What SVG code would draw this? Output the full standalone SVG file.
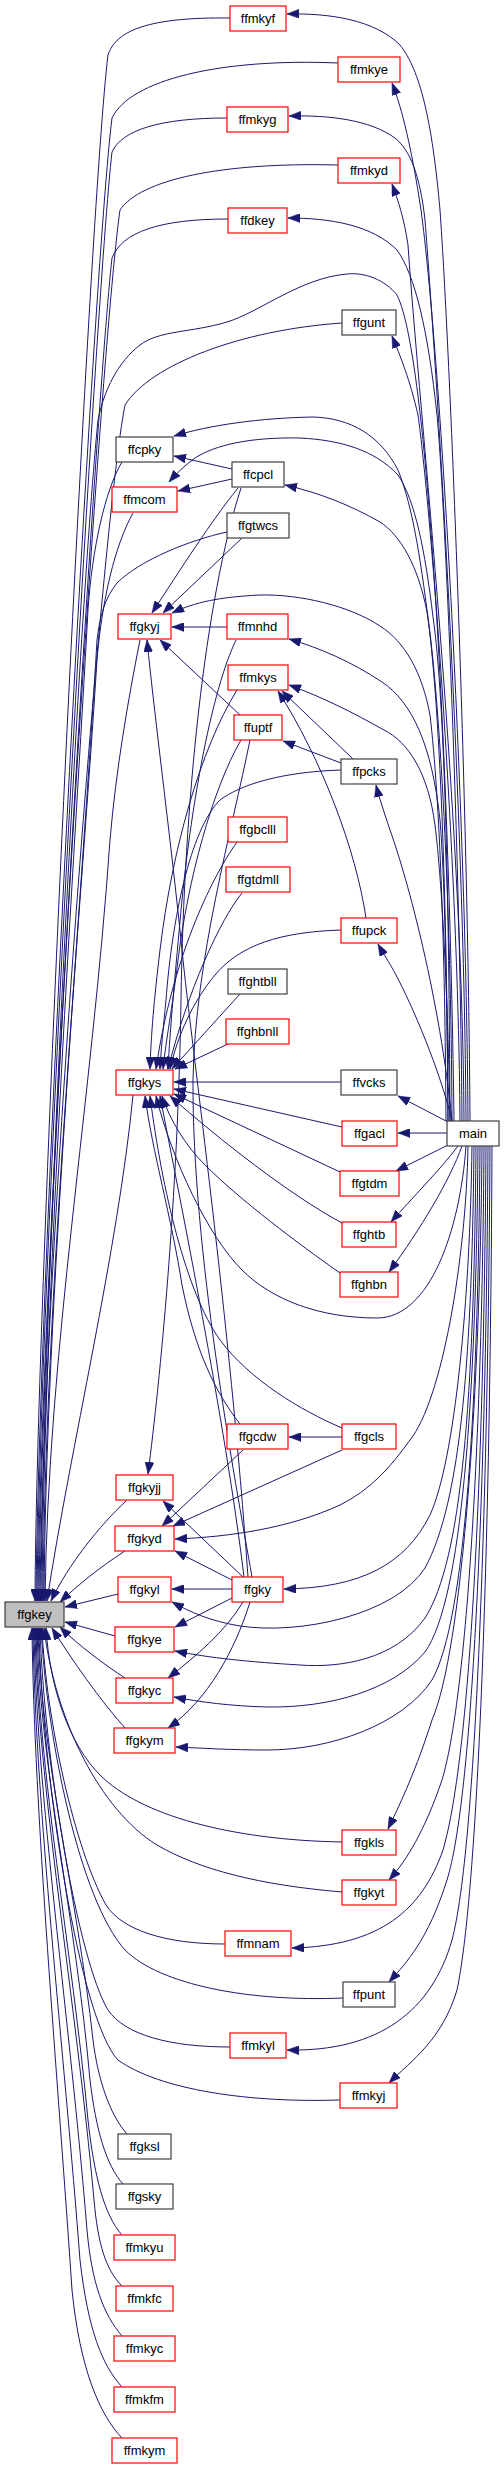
<svg xmlns="http://www.w3.org/2000/svg" width="504" height="2469" viewBox="0 0 504 2469">
<style>
.n rect{fill:#fff;stroke-width:1.2}
.r rect{stroke:#ff0000}
.b rect{stroke:#404040}
.g rect{fill:#bfbfbf;stroke:#404040}
.n text{font-family:"Liberation Sans",Arial,Helvetica,sans-serif;font-size:13px;fill:#000;text-anchor:middle}
#edges path{fill:none;stroke:#191970;stroke-width:1;marker-end:url(#ah)}
#edges path.na{marker-end:none}
</style>
<defs>
<marker id="ah" viewBox="0 0 12 9" refX="12" refY="4.5" markerWidth="12" markerHeight="9" markerUnits="userSpaceOnUse" orient="auto">
<path d="M0,0L12,4.5L0,9z" fill="#191970" stroke="#191970" stroke-width="0.5"/>
</marker>
</defs>
<rect width="504" height="2469" fill="#fff"/>
<g id="edges">
<!-- callers of ffgkey above -->
<path d="M230,18 C150,17 116,30 108,55 C90,200 36,1300 35,1601"/>
<path d="M338,63 C220,58 130,80 112,118 C94,260 38,1300 36,1601"/>
<path d="M227,118 C160,118 122,130 112,152 C96,290 39,1300 37,1601"/>
<path d="M338,165 C220,162 140,180 120,210 C100,350 40,1300 38,1601"/>
<path d="M228,219 C160,219 122,232 112,258 C97,390 41,1300 39,1601"/>
<path d="M342,323 C240,330 150,365 125,405 C102,520 42,1300 40,1601"/>
<path d="M454,1121 C450,800 430,360 397,295 C385,280 365,272 347,274 C300,278 260,312 227,322 C190,333 160,330 140,345 C118,362 104,390 98,420 C80,600 43,1300 41,1601"/>
<path d="M122,462 C105,490 92,550 88,610 C75,850 44,1300 42,1601"/>
<path d="M133,513 C115,545 102,600 97,660 C82,900 45,1300 43,1601"/>
<path d="M227,532 C190,540 140,560 117,583 C105,598 100,615 97,640 C82,900 46,1300 44,1601"/>
<path d="M140,640 C128,700 116,770 110,840 C92,1100 48,1350 45,1601"/>
<path d="M133,1095 C118,1250 70,1450 47,1601"/>
<path d="M126,1501 C100,1525 68,1565 51,1601"/>
<path d="M125,1551 C100,1567 78,1585 60,1602"/>
<path d="M118,1594 L65,1607"/>
<!-- callers of ffgkey below -->
<path d="M115,1636 L65,1622"/>
<path d="M125,1678 C105,1665 78,1645 60,1627"/>
<path d="M125,1728 C100,1700 72,1660 52,1628"/>
<path d="M342,1842 C230,1840 140,1815 100,1775 C70,1745 50,1690 46,1628"/>
<path d="M342,1892 C260,1885 200,1870 157,1845 C100,1810 55,1720 44,1628"/>
<path d="M225,1944 C165,1944 122,1930 106,1905 C75,1850 46,1720 42,1628"/>
<path d="M343,1998 C250,2002 160,1985 125,1950 C80,1900 47,1740 41,1628"/>
<path d="M230,2047 C170,2047 125,2035 108,2010 C78,1960 44,1760 40,1628"/>
<path d="M340,2100 C250,2103 160,2090 118,2060 C80,2020 42,1780 39,1628"/>
<path d="M127,2134 C110,2115 98,2080 93,2040 C78,1900 40,1750 38,1628"/>
<path d="M123,2184 C106,2165 96,2130 90,2080 C76,1920 39,1760 37,1628"/>
<path d="M122,2235 C104,2215 94,2175 88,2120 C72,1950 38,1770 36,1628"/>
<path d="M122,2286 C106,2270 98,2245 94,2200 C76,2000 37,1780 35,1628"/>
<path d="M122,2336 C104,2315 92,2285 87,2230 C70,2020 36,1790 34,1628"/>
<path d="M122,2387 C102,2365 88,2330 80,2260 C64,2050 35,1800 33,1628"/>
<path d="M122,2438 C100,2415 80,2370 72,2290 C58,2080 34,1810 32,1628"/>
<!-- main edges -->
<path d="M470,1121 C468,800 450,350 440,210 C432,120 420,70 400,45 C375,20 330,13 287,14"/>
<path d="M468,1121 C466,800 440,350 421,210 C412,150 402,108 392,83"/>
<path d="M466,1121 C464,800 436,360 425,220 C420,175 410,150 395,138 C370,120 330,115 289,116"/>
<path d="M464,1121 C462,800 420,420 408,245 C404,218 398,200 392,184"/>
<path d="M462,1121 C460,850 445,500 437,415 C428,330 415,275 397,250 C372,225 330,218 288,218"/>
<path d="M460,1121 C458,850 430,500 418,415 C410,380 400,355 392,336"/>
<path d="M452,1121 C451,900 440,700 427,610 C418,540 410,500 398,470 C380,435 350,418 313,417 C260,418 210,425 174,436"/>
<path d="M450,1121 C449,900 445,700 433,617 C425,550 415,500 398,475 C375,450 340,440 300,438 C250,437 215,445 195,458 C185,465 176,474 169,482"/>
<path d="M448,1121 C447,900 440,700 427,612 C418,565 400,535 380,522 C350,505 320,493 285,485"/>
<path d="M446,1121 C445,950 440,800 430,715 C422,672 405,642 380,626 C350,606 300,594 260,595 C220,597 195,602 172,613"/>
<path d="M448,1121 C447,1000 445,880 440,820 C432,745 412,702 382,682 C352,662 320,648 289,639"/>
<path d="M450,1121 C448,1000 442,880 435,825 C428,772 408,742 384,730 C352,712 322,697 289,685"/>
<path d="M452,1121 C440,1000 408,880 390,830 C384,812 379,797 376,785"/>
<path d="M452,1121 C440,1070 412,1005 396,975 C389,962 383,953 378,944"/>
<path d="M448,1122 L398,1096"/>
<path d="M447,1133 L398,1133"/>
<path d="M448,1145 L396,1171"/>
<path d="M458,1146 C440,1170 412,1198 391,1222"/>
<path d="M462,1146 C450,1180 420,1230 389,1272"/>
<path d="M466,1146 C460,1230 430,1318 377,1318 C320,1318 272,1300 242,1270 C208,1236 172,1160 156,1096"/>
<path d="M468,1146 C466,1260 442,1400 410,1440 C390,1468 370,1490 340,1505 C290,1528 230,1537 175,1539"/>
<path d="M472,1146 C470,1300 455,1460 430,1515 C405,1565 360,1588 284,1589"/>
<path d="M474,1146 C472,1350 462,1500 425,1568 C395,1615 300,1635 240,1626 C210,1621 190,1612 172,1602"/>
<path d="M476,1146 C474,1400 462,1560 425,1618 C395,1660 340,1668 300,1665 C250,1662 210,1658 175,1651"/>
<path d="M478,1146 C476,1400 462,1600 425,1652 C393,1690 330,1708 267,1707 C230,1706 200,1702 174,1697"/>
<path d="M480,1146 C478,1400 466,1620 432,1680 C402,1725 330,1750 267,1750 C230,1750 200,1748 176,1747"/>
<path d="M482,1146 C480,1400 462,1650 432,1720 C416,1770 402,1800 388,1829"/>
<path d="M484,1146 C482,1450 466,1700 442,1780 C425,1830 407,1860 389,1880"/>
<path d="M486,1146 C484,1450 472,1750 443,1850 C422,1910 380,1946 292,1948"/>
<path d="M488,1146 C486,1500 472,1800 447,1880 C428,1940 407,1962 389,1982"/>
<path d="M490,1146 C488,1500 476,1850 452,1940 C432,2010 380,2052 287,2050"/>
<path d="M492,1146 C490,1600 476,1900 457,1990 C442,2040 412,2060 389,2083"/>
<!-- middle edges -->
<path d="M232,469 L174,456"/>
<path d="M232,479 L178,491"/>
<path d="M238,488 C212,520 180,570 152,613"/>
<path d="M241,488 C205,600 184,800 181,1000 C178,1200 160,1380 148,1474"/>
<path d="M242,538 L163,613"/>
<path d="M227,627 L172,627"/>
<path d="M236,640 C212,690 192,800 182,900 C175,975 170,1030 168,1069"/>
<path d="M240,715 L160,640"/>
<path d="M241,740 C212,790 188,880 178,960 C172,1010 166,1040 163,1069"/>
<path class="na" d="M250,740 C232,830 195,960 193,1080 C192,1250 235,1480 252,1577"/>
<path d="M237,690 C200,750 172,850 160,950 C154,1000 151,1035 150,1069"/>
<path d="M341,770 C280,772 240,785 220,800 C190,830 172,920 166,1000 C163,1030 161,1050 160,1069"/>
<path d="M237,842 C210,880 172,960 156,1069"/>
<path d="M242,893 C220,920 188,990 168,1069"/>
<path d="M341,930 C280,932 240,945 215,975 C192,1003 178,1035 170,1069"/>
<path d="M240,994 L172,1069"/>
<path d="M228,1044 L175,1069"/>
<path d="M341,1082 L174,1082"/>
<path d="M342,1127 L174,1089"/>
<path d="M340,1172 L174,1094"/>
<path d="M342,1223 C290,1195 220,1140 170,1096"/>
<path d="M340,1273 C300,1245 240,1200 205,1165 C185,1145 170,1120 162,1096"/>
<path d="M342,1428 C300,1410 250,1380 220,1340 C186,1292 162,1190 150,1096"/>
<path d="M240,1424 C215,1392 195,1350 182,1285 C172,1220 152,1150 145,1096"/>
<path d="M248,1577 C230,1320 192,1050 182,950 C172,850 155,720 147,640"/>
<path d="M244,1577 C225,1420 180,1200 160,1096"/>
<path d="M342,1437 L289,1437"/>
<path d="M342,1450 L173,1526"/>
<path d="M243,1450 L162,1526"/>
<path d="M243,1577 L163,1501"/>
<path d="M232,1580 L175,1551"/>
<path d="M232,1589 L172,1589"/>
<path d="M232,1598 L175,1627"/>
<path d="M243,1602 C225,1632 196,1656 168,1678"/>
<path d="M250,1602 C235,1650 208,1700 168,1728"/>
<path d="M353,759 L282,691"/>
<path d="M366,918 C356,850 322,760 278,691"/>
<path d="M341,763 L283,741"/>
</g>
<g id="ffmkyf" class="n r"><rect x="230" y="6" width="56" height="25"/><text x="258" y="23">ffmkyf</text></g>
<g id="ffmkye" class="n r"><rect x="338" y="57" width="62" height="25"/><text x="369" y="74">ffmkye</text></g>
<g id="ffmkyg" class="n r"><rect x="227" y="107" width="61" height="25"/><text x="257.5" y="124">ffmkyg</text></g>
<g id="ffmkyd" class="n r"><rect x="338" y="158" width="62" height="25"/><text x="369" y="175">ffmkyd</text></g>
<g id="ffdkey" class="n r"><rect x="228" y="208" width="59" height="25"/><text x="257.5" y="225">ffdkey</text></g>
<g id="ffgunt" class="n b"><rect x="342" y="310" width="54" height="25"/><text x="369" y="327">ffgunt</text></g>
<g id="ffcpky" class="n b"><rect x="116" y="437" width="57" height="25"/><text x="144.5" y="454">ffcpky</text></g>
<g id="ffcpcl" class="n b"><rect x="232" y="462" width="52" height="25"/><text x="258" y="479">ffcpcl</text></g>
<g id="ffmcom" class="n r"><rect x="112" y="487" width="65" height="25"/><text x="144.5" y="504">ffmcom</text></g>
<g id="ffgtwcs" class="n b"><rect x="227" y="513" width="62" height="25"/><text x="258" y="530">ffgtwcs</text></g>
<g id="ffgkyj" class="n r"><rect x="118" y="614" width="53" height="25"/><text x="144.5" y="631">ffgkyj</text></g>
<g id="ffmnhd" class="n r"><rect x="227" y="614" width="61" height="25"/><text x="257.5" y="631">ffmnhd</text></g>
<g id="ffmkys" class="n r"><rect x="228" y="665" width="60" height="25"/><text x="258" y="682">ffmkys</text></g>
<g id="ffuptf" class="n r"><rect x="234" y="715" width="48" height="25"/><text x="258" y="732">ffuptf</text></g>
<g id="ffpcks" class="n b"><rect x="341" y="759" width="56" height="25"/><text x="369" y="776">ffpcks</text></g>
<g id="ffgbclll" class="n r"><rect x="228" y="817" width="59" height="25"/><text x="257.5" y="834">ffgbclll</text></g>
<g id="ffgtdmll" class="n r"><rect x="226" y="867" width="64" height="25"/><text x="258" y="884">ffgtdmll</text></g>
<g id="ffupck" class="n r"><rect x="341" y="918" width="56" height="25"/><text x="369" y="935">ffupck</text></g>
<g id="ffghtbll" class="n b"><rect x="228" y="969" width="59" height="25"/><text x="257.5" y="986">ffghtbll</text></g>
<g id="ffghbnll" class="n r"><rect x="226" y="1019" width="63" height="25"/><text x="257.5" y="1036">ffghbnll</text></g>
<g id="ffgkys" class="n r"><rect x="116" y="1070" width="57" height="25"/><text x="144.5" y="1087">ffgkys</text></g>
<g id="ffvcks" class="n b"><rect x="341" y="1070" width="56" height="25"/><text x="369" y="1087">ffvcks</text></g>
<g id="ffgacl" class="n r"><rect x="342" y="1121" width="55" height="25"/><text x="369.5" y="1138">ffgacl</text></g>
<g id="main" class="n b"><rect x="447" y="1121" width="52" height="25"/><text x="473" y="1138">main</text></g>
<g id="ffgtdm" class="n r"><rect x="340" y="1171" width="59" height="25"/><text x="369.5" y="1188">ffgtdm</text></g>
<g id="ffghtb" class="n r"><rect x="342" y="1222" width="54" height="25"/><text x="369" y="1239">ffghtb</text></g>
<g id="ffghbn" class="n r"><rect x="340" y="1272" width="58" height="25"/><text x="369" y="1289">ffghbn</text></g>
<g id="ffgcdw" class="n r"><rect x="227" y="1424" width="61" height="25"/><text x="257.5" y="1441">ffgcdw</text></g>
<g id="ffgcls" class="n r"><rect x="342" y="1424" width="54" height="25"/><text x="369" y="1441">ffgcls</text></g>
<g id="ffgkyjj" class="n r"><rect x="116" y="1475" width="57" height="25"/><text x="144.5" y="1492">ffgkyjj</text></g>
<g id="ffgkyd" class="n r"><rect x="115" y="1526" width="59" height="25"/><text x="144.5" y="1543">ffgkyd</text></g>
<g id="ffgkyl" class="n r"><rect x="118" y="1577" width="53" height="25"/><text x="144.5" y="1594">ffgkyl</text></g>
<g id="ffgky" class="n r"><rect x="232" y="1577" width="51" height="25"/><text x="257.5" y="1594">ffgky</text></g>
<g id="ffgkey" class="n g"><rect x="5" y="1602" width="59" height="25"/><text x="34.5" y="1619">ffgkey</text></g>
<g id="ffgkye" class="n r"><rect x="115" y="1627" width="59" height="25"/><text x="144.5" y="1644">ffgkye</text></g>
<g id="ffgkyc" class="n r"><rect x="116" y="1678" width="57" height="25"/><text x="144.5" y="1695">ffgkyc</text></g>
<g id="ffgkym" class="n r"><rect x="114" y="1728" width="61" height="25"/><text x="144.5" y="1745">ffgkym</text></g>
<g id="ffgkls" class="n r"><rect x="342" y="1830" width="54" height="25"/><text x="369" y="1847">ffgkls</text></g>
<g id="ffgkyt" class="n r"><rect x="342" y="1880" width="54" height="25"/><text x="369" y="1897">ffgkyt</text></g>
<g id="ffmnam" class="n r"><rect x="225" y="1931" width="66" height="25"/><text x="258" y="1948">ffmnam</text></g>
<g id="ffpunt" class="n b"><rect x="343" y="1982" width="52" height="25"/><text x="369" y="1999">ffpunt</text></g>
<g id="ffmkyl" class="n r"><rect x="230" y="2033" width="56" height="25"/><text x="258" y="2050">ffmkyl</text></g>
<g id="ffmkyj" class="n r"><rect x="340" y="2083" width="57" height="25"/><text x="368.5" y="2100">ffmkyj</text></g>
<g id="ffgksl" class="n b"><rect x="118" y="2134" width="53" height="25"/><text x="144.5" y="2151">ffgksl</text></g>
<g id="ffgsky" class="n b"><rect x="116" y="2184" width="57" height="25"/><text x="144.5" y="2201">ffgsky</text></g>
<g id="ffmkyu" class="n r"><rect x="114" y="2235" width="61" height="25"/><text x="144.5" y="2252">ffmkyu</text></g>
<g id="ffmkfc" class="n r"><rect x="116" y="2286" width="57" height="25"/><text x="144.5" y="2303">ffmkfc</text></g>
<g id="ffmkyc" class="n r"><rect x="114" y="2336" width="61" height="25"/><text x="144.5" y="2353">ffmkyc</text></g>
<g id="ffmkfm" class="n r"><rect x="114" y="2387" width="61" height="25"/><text x="144.5" y="2404">ffmkfm</text></g>
<g id="ffmkym" class="n r"><rect x="112" y="2438" width="65" height="25"/><text x="144.5" y="2455">ffmkym</text></g>
</svg>
